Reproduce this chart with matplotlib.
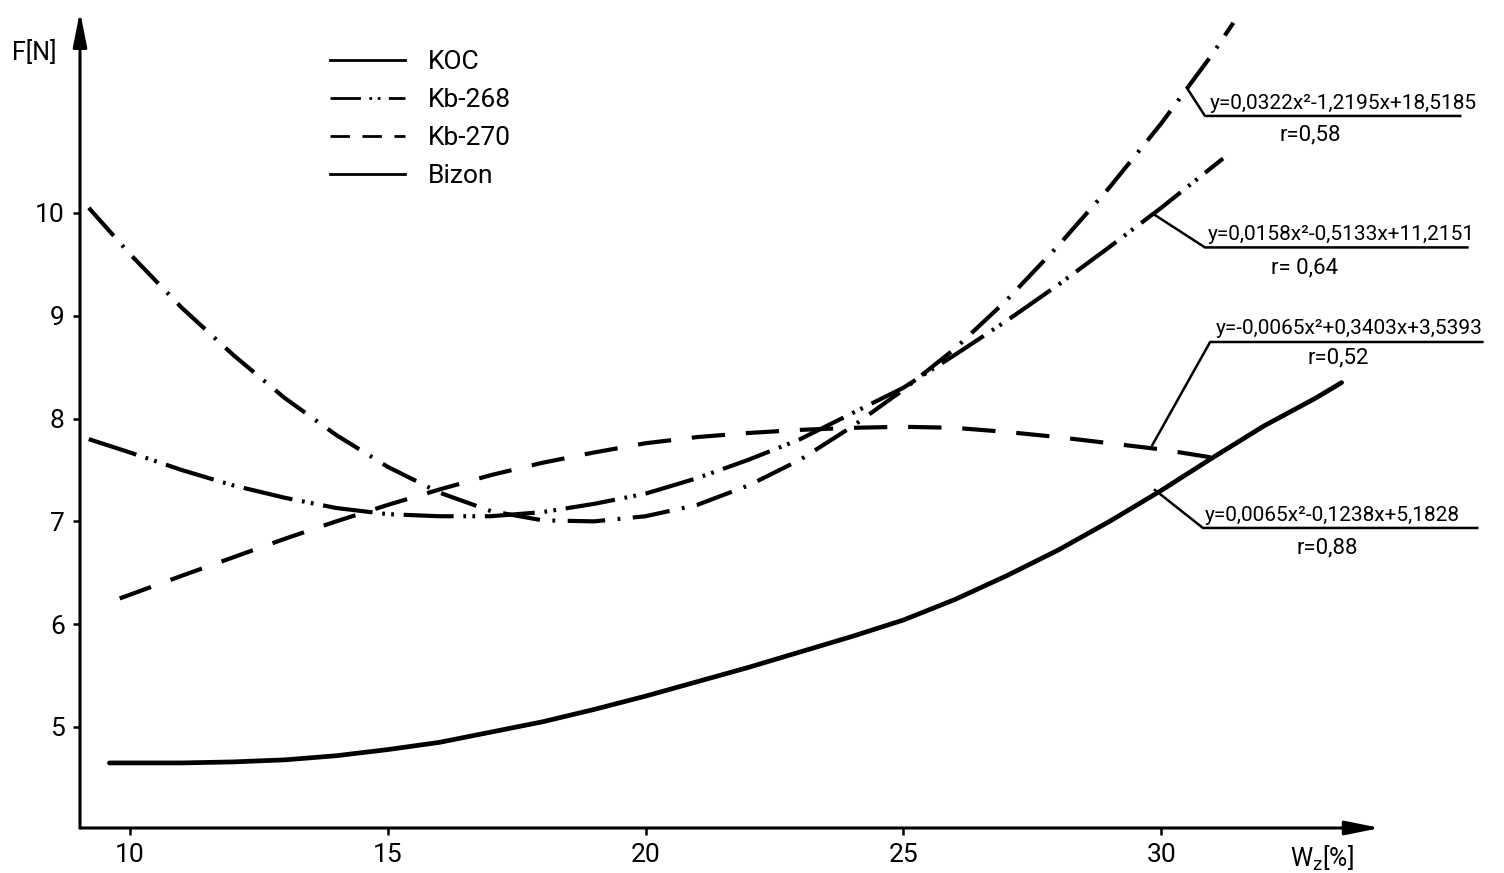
import matplotlib
matplotlib.use("Agg")
import matplotlib.pyplot as plt
from matplotlib.lines import Line2D

plt.rcParams['lines.scale_dashes'] = False
plt.rcParams['font.family'] = ['Roboto', 'DejaVu Sans']

# values
koc_x = [9.2, 10, 11, 12, 13, 14, 15, 16, 17, 18, 19, 20, 21, 22, 23, 24, 25, 26, 27, 28, 29, 30, 31, 31.4]
koc_y = [10.05, 9.6, 9.08, 8.62, 8.2, 7.84, 7.53, 7.28, 7.1, 7.01, 7.0, 7.05, 7.16, 7.35, 7.6, 7.92,
         8.28, 8.68, 9.15, 9.68, 10.25, 10.87, 11.55, 11.85]

kb268_x = [9.2, 10, 11, 12, 13, 14, 15, 16, 17, 18, 19, 20, 21, 22, 23, 24, 25, 26, 27, 28, 29, 30, 31, 31.2]
kb268_y = [7.8, 7.67, 7.5, 7.35, 7.23, 7.13, 7.07, 7.05, 7.05, 7.09, 7.17, 7.27, 7.42, 7.6, 7.8, 8.05,
           8.3, 8.62, 8.95, 9.3, 9.67, 10.05, 10.45, 10.53]

kb270_x = [9.8, 11, 12, 13, 14, 15, 16, 17, 18, 19, 20, 21, 22, 23, 24, 25, 26, 27, 28, 29, 30, 31, 31.3]
kb270_y = [6.25, 6.47, 6.65, 6.83, 7.0, 7.16, 7.31, 7.45, 7.57, 7.67, 7.76, 7.82, 7.86, 7.89, 7.91,
           7.92, 7.91, 7.87, 7.82, 7.76, 7.7, 7.62, 7.59]

bizon_x = [9.6, 11, 12, 13, 14, 15, 16, 17, 18, 19, 20, 21, 22, 23, 24, 25, 26, 27, 28, 29, 30, 31, 32, 33, 33.5]
bizon_y = [4.65, 4.65, 4.66, 4.68, 4.72, 4.78, 4.85, 4.95, 5.05, 5.17, 5.3, 5.44, 5.58, 5.73, 5.88,
           6.04, 6.24, 6.47, 6.72, 7.0, 7.3, 7.62, 7.93, 8.2, 8.35]

legend_labels = ['KOC', 'Kb-268', 'Kb-270', 'Bizon']
x_ticks = [10, 15, 20, 25, 30]
y_ticks = [5, 6, 7, 8, 9, 10]

equations = ['y=0,0322x²-1,2195x+18,5185', 'y=0,0158x²-0,5133x+11,2151',
             'y=-0,0065x²+0,3403x+3,5393', 'y=0,0065x²-0,1238x+5,1828']
r_values = ['r=0,58', 'r= 0,64', 'r=0,52', 'r=0,88']

dash_dot = (0, (27, 9, 2, 9))
dash_dot_dot = (0, (36, 7, 2, 4.5, 2, 7))
dashed = (0, (24, 15))

fig = plt.figure(figsize=(15.04, 8.73), dpi=100)
ax = fig.add_axes([80 / 1504, 45 / 873, 1 - 80 / 1504, 828 / 873])
ax.set_xlim(9.03, 36.65)
ax.set_ylim(4.017, 12.072)
for s in ax.spines.values():
    s.set_visible(False)

lw = 3.0
ax.plot(koc_x, koc_y, color='black', lw=lw, linestyle=dash_dot)
ax.plot(kb268_x, kb268_y, color='black', lw=lw, linestyle=dash_dot_dot)
ax.plot(kb270_x, kb270_y, color='black', lw=lw, linestyle=dashed)
ax.plot(bizon_x, bizon_y, color='black', lw=3.4, solid_capstyle='round', solid_joinstyle='round')

# axes with arrows
arrow = dict(arrowstyle='-|>,head_length=0.7,head_width=0.14', lw=2.2, color='black',
             mutation_scale=30, shrinkA=0, shrinkB=0)
ax.annotate('', xy=(9.03, 11.96), xytext=(9.03, 4.017), arrowprops=arrow, annotation_clip=False)
ax.annotate('', xy=(34.25, 4.017), xytext=(9.03, 4.017), arrowprops=arrow, annotation_clip=False)

ax.set_xticks(x_ticks)
ax.set_yticks(y_ticks)
ax.set_xticklabels([str(v) for v in x_ticks])
ax.set_yticklabels([str(v) for v in y_ticks])
ax.tick_params(axis='both', direction='out', length=5, width=1.8, labelsize=19, pad=6)

fig.text(12 / 1504, 1 - 52 / 873, 'F[N]', fontsize=18, va='center', ha='left')
fig.text(1290 / 1504, 1 - 858 / 873, r'W$_{\mathrm{z}}$[%]', fontsize=18, va='center', ha='left')

# legend as drawn in the picture
handles = [Line2D([], [], color='black', lw=2),
           Line2D([], [], color='black', lw=2, linestyle=(0, (22, 6, 2, 4, 2, 6))),
           Line2D([], [], color='black', lw=2, linestyle=(0, (14, 9))),
           Line2D([], [], color='black', lw=2)]
fig.legend(handles, legend_labels, loc='upper left', bbox_to_anchor=(330 / 1504, 1 - 50 / 873),
           frameon=False, fontsize=19, handlelength=2.85, handletextpad=0.85, labelspacing=0.53,
           borderpad=0, borderaxespad=0)

# equation leaders: (x, y) path, text anchor, r anchor
leaders = [
    ([30.50, 30.85, 35.80], [11.216, 10.944, 10.944], (30.95, 10.975), (32.89, 10.76)),
    ([29.88, 30.85, 35.94], [9.98, 9.665, 9.665], (30.91, 9.695), (32.79, 9.465)),
    ([29.83, 30.95, 36.23], [7.743, 8.745, 8.745], (31.05, 8.78), (33.43, 8.59)),
    ([29.88, 30.81, 36.13], [7.305, 6.936, 6.936], (30.85, 6.965), (33.22, 6.74)),
]
for (lx, ly, tpos, rpos), eq, rv in zip(leaders, equations, r_values):
    ax.plot(lx, ly, color='black', lw=1.8, clip_on=False)
    ax.text(tpos[0], tpos[1], eq, fontsize=15, ha='left', va='bottom', clip_on=False)
    ax.text(rpos[0], rpos[1], rv, fontsize=16, ha='center', va='center', clip_on=False)

fig.savefig('out.png', dpi=100)
